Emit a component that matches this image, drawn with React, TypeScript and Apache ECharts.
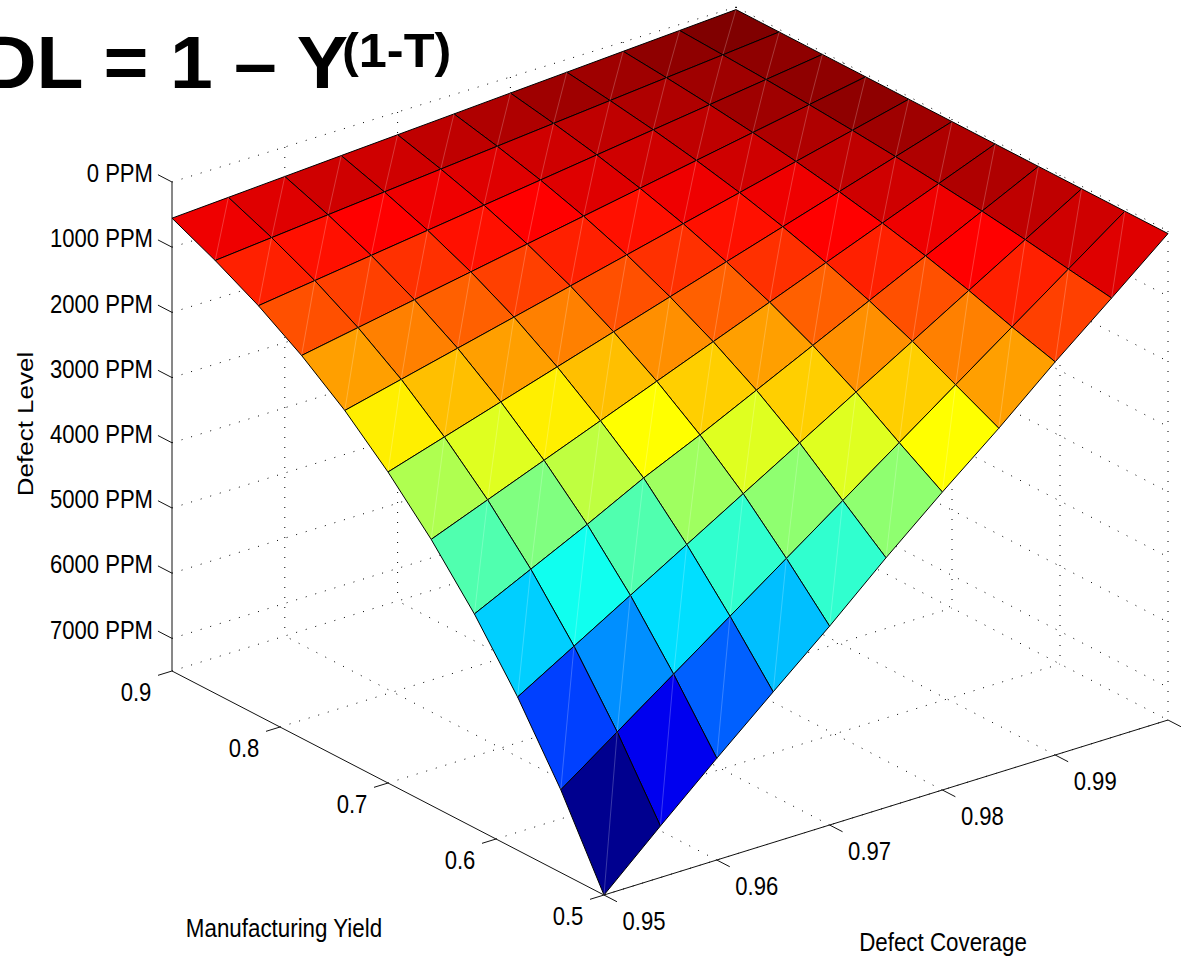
import React, { useEffect, useRef } from "react";
import * as echarts from "echarts";

const yieldValues = [0.5, 0.54, 0.58, 0.62, 0.66, 0.7, 0.74, 0.78, 0.82, 0.86, 0.9];
const coverageValues = [0.95, 0.955, 0.96, 0.965, 0.97, 0.975, 0.98, 0.985, 0.99, 0.995, 1.0];
// rows: yield, columns: coverage
const defectLevel = [
  [7500, 6710, 5940, 5190, 4450, 3670, 2930, 2220, 1470, 760, 40],
  [6230, 5611, 4992, 4373, 3754, 3135, 2516, 1897, 1278, 659, 40],
  [5150, 4639, 4128, 3617, 3106, 2595, 2084, 1573, 1062, 551, 40],
  [4220, 3802, 3384, 2940, 2548, 2130, 1712, 1294, 876, 458, 40],
  [3420, 3082, 2744, 2406, 2068, 1730, 1392, 1054, 716, 378, 40],
  [2730, 2461, 2192, 1923, 1654, 1385, 1116, 847, 578, 309, 40],
  [2130, 1921, 1712, 1503, 1294, 1085, 876, 667, 458, 249, 40],
  [1630, 1471, 1312, 1153, 994, 835, 676, 517, 358, 199, 40],
  [1210, 1093, 976, 859, 742, 625, 508, 391, 274, 157, 40],
  [860, 778, 696, 614, 532, 450, 368, 286, 204, 122, 40],
  [555, 504, 452, 400, 349, 298, 246, 195, 143, 92, 40],
];
const yieldTicks = [0.5, 0.6, 0.7, 0.8, 0.9];
const coverageTicks = [0.95, 0.96, 0.97, 0.98, 0.99, 1.0];
const coverageTickLabels = ["0.95", "0.96", "0.97", "0.98", "0.99", ""];
const levelTicks = [0, 1000, 2000, 3000, 4000, 5000, 6000, 7000];
const LEVEL_BOTTOM = 7500;

const project = (t: number, y: number, z: number) => [
  604 + (t - 0.95) * 11280 - (y - 0.5) * 1080,
  895 - (t - 0.95) * 3500 - (y - 0.5) * 560 - (LEVEL_BOTTOM - z) * 0.0652,
];

const clamp = (v: number) => Math.max(0, Math.min(1, v));
function jet(level: number) {
  const x = clamp((7520 - level) / 7500);
  const k = Math.min(63, Math.floor(x * 64));
  const u = (k + 1) / 64;
  const c = (o: number) => Math.round(255 * clamp(1.5 - Math.abs(4 * u - o)));
  return `rgb(${c(3)},${c(2)},${c(1)})`;
}

const FONT = "26px 'Liberation Sans', Arial, sans-serif";

export default function App() {
  const ref = useRef<HTMLDivElement>(null);
  useEffect(() => {
    const chart = echarts.init(ref.current!, null, { renderer: "svg" });

    // painter's order: far cells first
    const cells: number[][] = [];
    for (let j = 9; j >= 0; j--) for (let i = 9; i >= 0; i--) cells.push([i, j]);

    // dotted segments in data space [t1,y1,z1,t2,y2,z2]
    const dotted: number[][] = [];
    const tMin = 0.95, tMax = 1.0, yMin = 0.5, yMax = 0.9;
    levelTicks.forEach((z) => {
      dotted.push([tMin, yMax, z, tMax, yMax, z]);
      dotted.push([tMax, yMax, z, tMax, yMin, z]);
    });
    dotted.push([tMin, yMax, LEVEL_BOTTOM, tMax, yMax, LEVEL_BOTTOM]);
    dotted.push([tMax, yMax, LEVEL_BOTTOM, tMax, yMin, LEVEL_BOTTOM]);
    coverageTicks.slice(1).forEach((t) => {
      dotted.push([t, yMax, 0, t, yMax, LEVEL_BOTTOM]);
      if (t < tMax) dotted.push([t, yMin, LEVEL_BOTTOM, t, yMax, LEVEL_BOTTOM]);
    });
    yieldTicks.forEach((y) => {
      dotted.push([tMax, y, 0, tMax, y, LEVEL_BOTTOM]);
      if (y < yMax) dotted.push([tMin, y, LEVEL_BOTTOM, tMax, y, LEVEL_BOTTOM]);
    });

    // solid axis lines and ticks
    const solid: number[][] = [
      [tMin, yMax, 0, tMin, yMax, LEVEL_BOTTOM],
      [tMin, yMax, LEVEL_BOTTOM, tMin, yMin, LEVEL_BOTTOM],
      [tMin, yMin, LEVEL_BOTTOM, tMax, yMin, LEVEL_BOTTOM],
    ];
    levelTicks.forEach((z) => solid.push([tMin, yMax, z, tMin, yMax + 0.013, z]));
    yieldTicks.forEach((y) => solid.push([tMin, y, LEVEL_BOTTOM, tMin - 0.00124, y, LEVEL_BOTTOM]));
    coverageTicks.forEach((t) => solid.push([t, yMin, LEVEL_BOTTOM, t, yMin - 0.012, LEVEL_BOTTOM]));

    // tick labels
    const labels: { t: number; y: number; z: number; text: string; dx: number; dy: number; align: string }[] = [];
    levelTicks.forEach((z) =>
      labels.push({ t: tMin, y: yMax, z, text: `${z} PPM`, dx: -19, dy: -9, align: "right" })
    );
    yieldTicks.forEach((y) =>
      labels.push({ t: tMin, y, z: LEVEL_BOTTOM, text: String(y), dx: -36, dy: 21, align: "center" })
    );
    coverageTicks.forEach((t, n) =>
      labels.push({ t, y: yMin, z: LEVEL_BOTTOM, text: coverageTickLabels[n], dx: 40, dy: 26, align: "center" })
    );

    const lineRender = (data: number[][], style: any) => (_p: any, api: any) => {
      const d = data[api.value(0)];
      const a = api.coord(project(d[0], d[1], d[2]));
      const b = api.coord(project(d[3], d[4], d[5]));
      return { type: "line", shape: { x1: a[0], y1: a[1], x2: b[0], y2: b[1] }, style, silent: true };
    };

    chart.setOption({
      animation: false,
      backgroundColor: "#ffffff",
      grid: { left: 0, right: 0, top: 0, bottom: 0 },
      xAxis: { type: "value", min: 0, max: 1182, show: false },
      yAxis: { type: "value", min: 0, max: 957, inverse: true, show: false },
      tooltip: { show: false },
      graphic: [
        {
          type: "text",
          x: -19,
          y: 63,
          scaleX: 1.04,
          style: {
            text: "DL = 1 – Y",
            font: "bold 74px 'Liberation Sans', Arial, sans-serif",
            fill: "#000",
            textAlign: "left",
            textVerticalAlign: "middle",
          },
        },
        {
          type: "text",
          x: 342,
          y: 50,
          scaleX: 1.03,
          style: {
            text: "(1-T)",
            font: "bold 49px 'Liberation Sans', Arial, sans-serif",
            fill: "#000",
            textAlign: "left",
            textVerticalAlign: "middle",
          },
        },
        {
          type: "text",
          x: 25,
          y: 424,
          rotation: Math.PI / 2,
          scaleY: 0.85,
          style: { text: "Defect Level", font: FONT, fill: "#000", textAlign: "center", textVerticalAlign: "middle" },
        },
        {
          type: "text",
          x: 284,
          y: 928,
          scaleX: 0.86,
          style: { text: "Manufacturing Yield", font: FONT, fill: "#000", textAlign: "center", textVerticalAlign: "middle" },
        },
        {
          type: "text",
          x: 943,
          y: 942,
          scaleX: 0.86,
          style: { text: "Defect Coverage", font: FONT, fill: "#000", textAlign: "center", textVerticalAlign: "middle" },
        },
      ],
      series: [
        {
          type: "custom",
          coordinateSystem: "cartesian2d",
          z: 1,
          silent: true,
          clip: false,
          data: dotted.map((_, n) => [n, 0]),
          encode: { x: 0, y: 1 },
          renderItem: lineRender(dotted, { stroke: "#000", lineWidth: 1, lineDash: [1, 9] }),
        },
        {
          type: "custom",
          coordinateSystem: "cartesian2d",
          z: 2,
          silent: true,
          clip: false,
          data: solid.map((_, n) => [n, 0]),
          encode: { x: 0, y: 1 },
          renderItem: lineRender(solid, { stroke: "#111", lineWidth: 1 }),
        },
        {
          type: "custom",
          coordinateSystem: "cartesian2d",
          z: 3,
          silent: true,
          clip: false,
          data: cells.map((c, n) => [n, 0]),
          encode: { x: 0, y: 1 },
          renderItem: (_p: any, api: any) => {
            const [i, j] = cells[api.value(0)];
            const pt = (a: number, b: number) =>
              api.coord(project(coverageValues[a], yieldValues[b], defectLevel[b][a]));
            const p00 = pt(i, j), p10 = pt(i + 1, j), p11 = pt(i + 1, j + 1), p01 = pt(i, j + 1);
            return {
              type: "group",
              children: [
                {
                  type: "polygon",
                  shape: { points: [p00, p10, p11, p01] },
                  style: { fill: jet(defectLevel[j][i]), stroke: "#000", lineWidth: 1, lineJoin: "round" },
                },
                {
                  type: "line",
                  shape: { x1: p00[0], y1: p00[1], x2: p11[0], y2: p11[1] },
                  style: { stroke: "rgba(255,255,255,0.28)", lineWidth: 0.8 },
                },
              ],
            };
          },
        },
        {
          type: "custom",
          coordinateSystem: "cartesian2d",
          z: 4,
          silent: true,
          clip: false,
          data: labels.map((_, n) => [n, 0]),
          encode: { x: 0, y: 1 },
          renderItem: (_p: any, api: any) => {
            const l = labels[api.value(0)];
            const a = api.coord(project(l.t, l.y, l.z));
            return {
              type: "text",
              x: a[0] + l.dx,
              y: a[1] + l.dy,
              scaleX: 0.85,
              style: { text: l.text, font: FONT, fill: "#000", textAlign: l.align, textVerticalAlign: "middle" },
            };
          },
        },
      ],
    });
    return () => chart.dispose();
  }, []);
  return <div ref={ref} style={{ position: "absolute", left: 0, top: 0, width: 1182, height: 957 }} />;
}
